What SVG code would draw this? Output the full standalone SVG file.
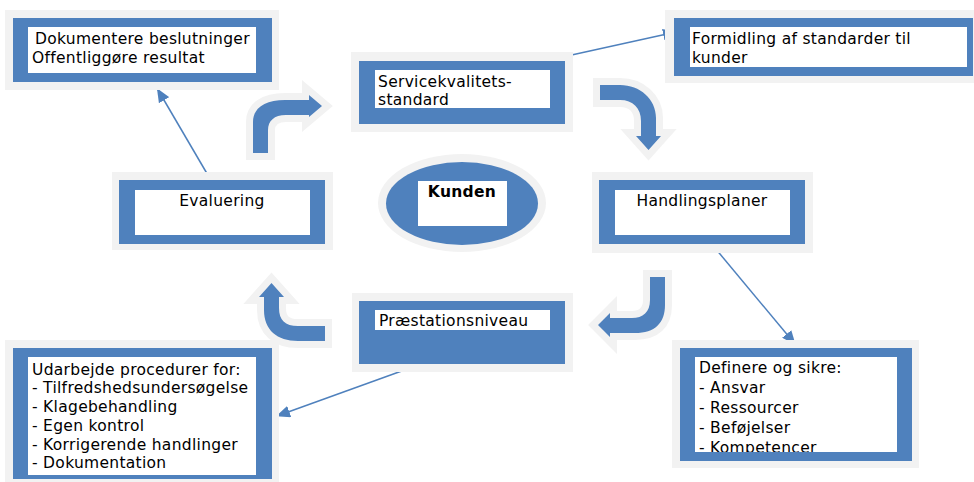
<svg xmlns="http://www.w3.org/2000/svg" width="974" height="482" viewBox="0 0 974 482">
<style>
.glow{fill:#f2f2f2}
.blue{fill:#4f81bd}
.white{fill:#ffffff}
.t{font-family:"DejaVu Sans",Verdana,sans-serif;font-size:15.5px;letter-spacing:0.3px;fill:#000000}
.b{font-weight:bold}
.ba{fill:#4f81bd;stroke:#f2f2f2;stroke-width:14;paint-order:stroke;stroke-linejoin:miter;stroke-miterlimit:10}
.ln{stroke:#4f81bd;stroke-width:1.5;fill:none}
</style>
<defs>
<marker id="ah" markerWidth="14" markerHeight="12" refX="13" refY="6" orient="auto" markerUnits="userSpaceOnUse">
<path d="M0,0 L14,6 L0,12 Z" fill="#4f81bd"/>
</marker>
<clipPath id="clipDef"><rect x="695" y="357" width="202" height="95"/></clipPath>
</defs>
<rect width="974" height="482" fill="#ffffff"/>

<g id="cycle-arrows">
<path class="ba" d="M253,153 V122 C253,108 265,100 285,100 H309 V95 L322,106 L309,117 V115 H286 C274,115 268,121 268,130 V153 Z"/>
<path class="ba" d="M600,85 H620 C640,85 656,99 656,118 V136 H661 L648.5,150 L636,136 H641 V121 C641,108 633,100 620,100 H600 Z"/>
<path class="ba" d="M650,277 H665 V305 C665,323 655,333 635,333 H610 V337 L598,325 L610,313 V318 H632 C643,318 650,312 650,300 Z"/>
<path class="ba" d="M325,341 H298 C277,341 264,330 264,310 V297 H259 L271.5,283 L284,297 H279 V308 C279,320 285,326 298,326 H325 Z"/>
</g>

<g id="connectors">
<line class="ln" x1="209" y1="177" x2="157.5" y2="89" marker-end="url(#ah)"/>
<line class="ln" x1="567" y1="56" x2="676" y2="32" marker-end="url(#ah)"/>
<line class="ln" x1="715" y1="248" x2="795" y2="344" marker-end="url(#ah)"/>
<line class="ln" x1="410" y1="368" x2="277" y2="416" marker-end="url(#ah)"/>
</g>

<g id="node-dokumentere">
<rect class="glow" x="5" y="10" width="274" height="80"/>
<rect class="blue" x="13" y="18" width="259" height="64"/>
<rect class="white" x="28" y="27" width="228" height="46"/>
<text class="t" x="35" y="44">Dokumentere beslutninger</text>
<text class="t" x="32" y="63">Offentliggøre resultat</text>
</g>

<g id="node-service">
<rect class="glow" x="351" y="52" width="222" height="80"/>
<rect class="blue" x="359" y="61" width="206" height="63"/>
<rect class="white" x="375" y="70" width="175" height="38"/>
<text class="t" x="378" y="87">Servicekvalitets-</text>
<text class="t" x="378" y="105">standard</text>
</g>

<g id="node-formidling">
<rect class="glow" x="665" y="10" width="315" height="73"/>
<rect class="blue" x="674" y="18" width="299" height="58"/>
<rect class="white" x="690" y="27" width="277" height="40"/>
<text class="t" x="692" y="44">Formidling af standarder til</text>
<text class="t" x="692" y="63">kunder</text>
</g>

<g id="node-evaluering">
<rect class="glow" x="112" y="172" width="221" height="78"/>
<rect class="blue" x="119" y="180" width="206" height="64"/>
<rect class="white" x="135" y="190" width="175" height="45"/>
<text class="t" x="222" y="206" text-anchor="middle">Evaluering</text>
</g>

<g id="node-kunden">
<ellipse class="glow" cx="462" cy="203" rx="84" ry="49"/>
<ellipse class="blue" cx="462" cy="203.5" rx="76" ry="41.5"/>
<rect class="white" x="418" y="181" width="89" height="45"/>
<text class="t b" x="462" y="197" text-anchor="middle">Kunden</text>
</g>

<g id="node-handlingsplaner">
<rect class="glow" x="592" y="172" width="221" height="81"/>
<rect class="blue" x="599" y="180" width="206" height="64"/>
<rect class="white" x="615" y="190" width="175" height="45"/>
<text class="t" x="702" y="206" text-anchor="middle">Handlingsplaner</text>
</g>

<g id="node-praestation">
<rect class="glow" x="352" y="293" width="221" height="79"/>
<rect class="blue" x="359" y="301" width="206" height="63"/>
<rect class="white" x="375" y="310" width="175" height="20"/>
<text class="t" x="379" y="326">Præstationsniveau</text>
</g>

<g id="node-definere">
<rect class="glow" x="672" y="340" width="247" height="128"/>
<rect class="blue" x="680" y="348" width="232" height="113"/>
<rect class="white" x="695" y="357" width="202" height="95"/>
<g clip-path="url(#clipDef)">
<text class="t" x="699" y="373">Definere og sikre:</text>
<text class="t" x="699" y="393">- Ansvar</text>
<text class="t" x="699" y="413">- Ressourcer</text>
<text class="t" x="699" y="433">- Beføjelser</text>
<text class="t" x="699" y="452.5">- Kompetencer</text>
</g>
</g>

<g id="node-udarbejde">
<rect class="glow" x="5" y="340" width="274" height="150"/>
<rect class="blue" x="13" y="348" width="259" height="131"/>
<rect class="white" x="28" y="357" width="228" height="118"/>
<text class="t" x="32" y="375">Udarbejde procedurer for:</text>
<text class="t" x="32" y="393">- Tilfredshedsundersøgelse</text>
<text class="t" x="32" y="412">- Klagebehandling</text>
<text class="t" x="32" y="431">- Egen kontrol</text>
<text class="t" x="32" y="450">- Korrigerende handlinger</text>
<text class="t" x="32" y="468">- Dokumentation</text>
</g>
</svg>
